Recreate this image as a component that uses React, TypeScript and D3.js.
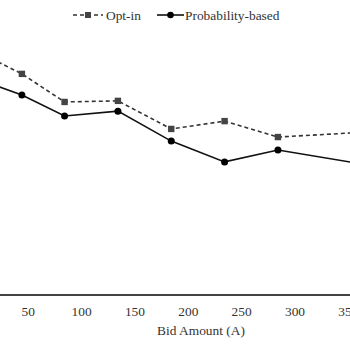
import React from "react";
import * as d3 from "d3";

const bids = [4, 44, 84, 134, 184, 234, 284, 384];
const optIn = [89.8, 81.9, 71.5, 71.9, 61.5, 64.4, 58.5, 60.7];
const probability = [79.8, 74.1, 66.3, 68.1, 57.0, 49.3, 53.7, 47.1];
const xTicks = [50, 100, 150, 200, 250, 300, 350];
const visibleMarkers = [1, 2, 3, 4, 5, 6];

const W = 350;
const H = 350;
const FONT = "'Liberation Serif', 'Times New Roman', serif";
const FS = 13.4;

export default function App() {
  const x = d3.scaleLinear().domain([50, 300]).range([28.3, 295]);
  const y = d3.scaleLinear().domain([0, 100]).range([295, 25]);
  const line = d3
    .line<number>()
    .x((_, i) => x(bids[i]))
    .y((d) => y(d));

  return (
    <svg
      width={W}
      height={H}
      style={{ position: "absolute", left: 0, top: 0, background: "#fff" }}
    >
      <defs>
        <clipPath id="plot">
          <rect x={0} y={0} width={W} height={H} />
        </clipPath>
      </defs>
      <g clipPath="url(#plot)">
        <path
          d={line(optIn) || ""}
          fill="none"
          stroke="#333"
          strokeWidth={1.6}
          strokeDasharray="4,3"
        />
        <path
          d={line(probability) || ""}
          fill="none"
          stroke="#111"
          strokeWidth={1.6}
        />
        {visibleMarkers.map((i) => (
          <rect
            key={"s" + i}
            x={x(bids[i]) - 3.2}
            y={y(optIn[i]) - 3.2}
            width={6.4}
            height={6.4}
            fill="#444"
          />
        ))}
        {visibleMarkers.map((i) => (
          <circle
            key={"c" + i}
            cx={x(bids[i])}
            cy={y(probability[i])}
            r={3.5}
            fill="#000"
          />
        ))}
      </g>
      <line x1={0} x2={W} y1={295} y2={295} stroke="#444" strokeWidth={2} />
      {xTicks.map((t) => (
        <text
          key={t}
          x={x(t)}
          y={315.5}
          textAnchor="middle"
          fontFamily={FONT}
          fontSize={FS}
          fill="#333"
        >
          {t}
        </text>
      ))}
      <text
        x={201}
        y={334.5}
        textAnchor="middle"
        fontFamily={FONT}
        fontSize={FS}
        fill="#333"
      >
        Bid Amount (A)
      </text>
      <g>
        <line
          x1={73}
          x2={103}
          y1={15}
          y2={15}
          stroke="#333"
          strokeWidth={1.6}
          strokeDasharray="4,3"
        />
        <rect x={85} y={12} width={6} height={6} fill="#444" />
        <text x={106} y={19.8} fontFamily={FONT} fontSize={FS} fill="#333">
          Opt-in
        </text>
        <line x1={157} x2={184} y1={15} y2={15} stroke="#111" strokeWidth={1.6} />
        <circle cx={170.5} cy={15} r={3.3} fill="#000" />
        <text x={185} y={19.8} fontFamily={FONT} fontSize={FS} fill="#333">
          Probability-based
        </text>
      </g>
    </svg>
  );
}
